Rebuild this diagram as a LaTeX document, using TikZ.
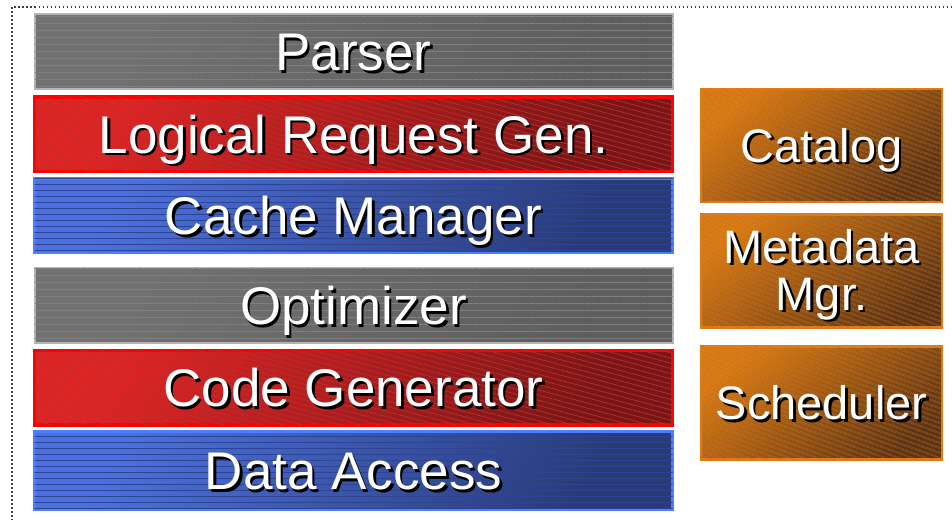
\documentclass[tikz,border=0pt]{standalone}
\usepackage{fontspec}
\setmainfont{Liberation Sans}
\usetikzlibrary{patterns.meta}
\definecolor{greyline}{HTML}{B4B4B4}
\definecolor{greytop}{HTML}{727272}
\definecolor{greybot}{HTML}{5E5E5E}
\definecolor{greyhatch}{HTML}{808080}
\definecolor{redline}{HTML}{FF0000}
\definecolor{redtop}{HTML}{E02424}
\definecolor{redbot}{HTML}{781616}
\definecolor{redhatch}{HTML}{B83030}
\definecolor{blueline}{HTML}{4A80FF}
\definecolor{bluetop}{HTML}{4C70E0}
\definecolor{bluebot}{HTML}{2A3A72}
\definecolor{bluehatch}{HTML}{2C4494}
\definecolor{orangeline}{HTML}{E07A14}
\definecolor{orangetop}{HTML}{DA7810}
\definecolor{orangebot}{HTML}{5C3212}
\definecolor{orangehatch}{HTML}{B46A1E}
\newcommand{\shtext}[1]{\leavevmode\rlap{\kern2.5pt\raisebox{-2.5pt}{\color{black}#1}}#1}
\begin{document}
\begin{tikzpicture}[x=1pt, y=-1pt,
    layer/.style={rectangle, inner sep=0pt, minimum width=638pt, minimum height=74.5pt, text=white,
        font=\fontsize{53}{60}\selectfont, text height=38pt, text depth=0pt},
    side/.style={rectangle, inner sep=0pt, minimum width=241pt, minimum height=113pt, text=white, align=center,
        font=\fontsize{47}{47}\selectfont, text height=33.7pt, text depth=0pt, line width=2.5pt, draw=orangeline,
        top color=orangetop, bottom color=orangebot, shading angle=40,
        postaction={pattern={Lines[angle=-20,distance=4pt,line width=0.6pt]}, pattern color=orangehatch}},
    greylayer/.style={layer, draw=greyline, line width=2pt, top color=greytop, bottom color=greybot, shading angle=60,
        postaction={pattern={Lines[angle=0,distance=7pt,line width=0.8pt]}, pattern color=greyhatch}},
    redlayer/.style={layer, draw=redline, line width=3.5pt, top color=redtop, bottom color=redbot, shading angle=60,
        postaction={pattern={Lines[angle=-15,distance=5pt,line width=0.7pt]}, pattern color=redhatch}},
    bluelayer/.style={layer, draw=blueline, line width=2.5pt, top color=bluetop, bottom color=bluebot, shading angle=60,
        postaction={pattern={Lines[angle=0,distance=6pt,line width=0.7pt]}, pattern color=bluehatch}},
    frameline/.style={draw=black!75, line width=1.5pt, dash pattern=on 1.5pt off 2.5pt}]
    \useasboundingbox (0,0) rectangle (952,520);
    \draw[frameline] (952,7) -| (12,520);
    % protocol stack
    \node [greylayer] (Parser) at (353.5,51.5) {\shtext{Parser}};
    \node [redlayer] (LRG) at (353.5,134) {\shtext{Logical Request Gen.}};
    \node [bluelayer] (Cache) at (353.5,215.5) {\shtext{Cache Manager}};
    \node [greylayer] (Optimizer) at (353.5,305.5) {\shtext{Optimizer}};
    \node [redlayer] (CodeGen) at (353.5,387.5) {\shtext{Code Generator}};
    \node [bluelayer, minimum height=78.5pt] (Access) at (353.5,470.5) {\shtext{Data Access}};
    % side services
    \node [side] (Catalog) at (821.5,145.5) {\shtext{Catalog}};
    \node [side, text height=78pt] (Metadata) at (821.5,271) {\shtext{Metadata}\\\shtext{Mgr.}};
    \node [side] (Scheduler) at (821.5,403) {\shtext{Scheduler}};
\end{tikzpicture}
\end{document}
